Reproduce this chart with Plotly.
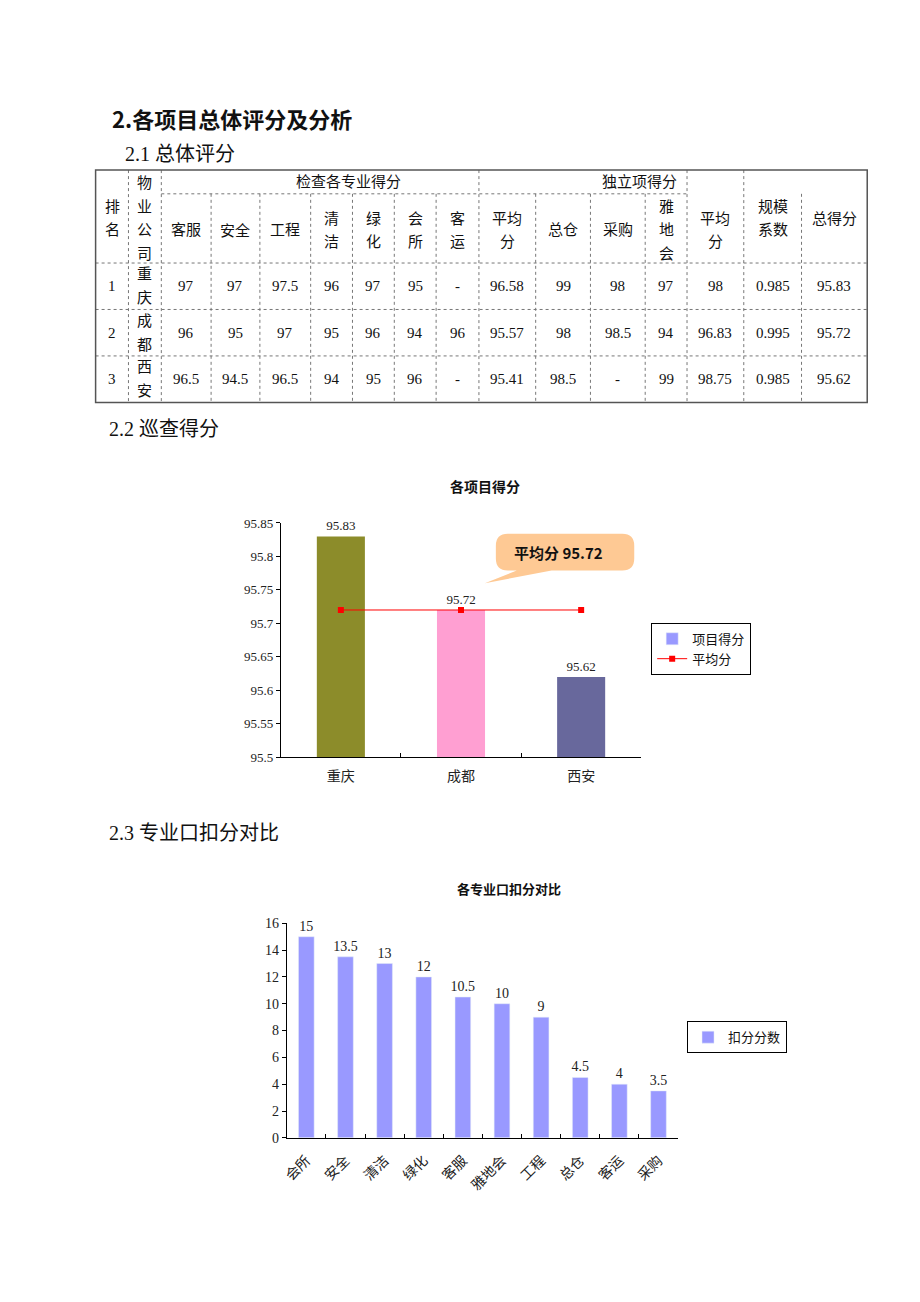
import plotly.graph_objects as go

W, H = 920, 1302
SERIF = "Liberation Serif, Noto Sans CJK SC"
SANS = "Noto Sans CJK SC"


def px(x):
    return x / W


def py(y):
    return 1 - y / H


# ---- table data ----
table_ranks = ["1", "2", "3"]
companies = ["重庆", "成都", "西安"]
inspect_headers = ["客服", "安全", "工程", "清洁", "绿化", "会所", "客运", "平均分"]
inspect_rows = [
    ["97", "97", "97.5", "96", "97", "95", "-", "96.58"],
    ["96", "95", "97", "95", "96", "94", "96", "95.57"],
    ["96.5", "94.5", "96.5", "94", "95", "96", "-", "95.41"],
]
indep_headers = ["总仓", "采购", "雅地会", "平均分"]
indep_rows = [
    ["99", "98", "97", "98"],
    ["98", "98.5", "94", "96.83"],
    ["98.5", "-", "99", "98.75"],
]
scale_factor = ["0.985", "0.995", "0.985"]
total_scores = [95.83, 95.72, 95.62]

# ---- chart 1 data ----
bar_colors = ["#8c8c2a", "#ff9fd2", "#68689c"]
avg_score = 95.72
avg_line = [95.72, 95.72, 95.72]

# ---- chart 2 data ----
deduct_cats = ["会所", "安全", "清洁", "绿化", "客服", "雅地会", "工程", "总仓", "客运", "采购"]
deduct_vals = [15, 13.5, 13, 12, 10.5, 10, 9, 4.5, 4, 3.5]

fig = go.Figure()

# chart 1
fig.add_trace(go.Bar(
    x=companies, y=total_scores, marker_color=bar_colors, marker_line_width=0,
    texttemplate="%{y:.2f}", textposition="outside", cliponaxis=False, constraintext="none",
    textfont=dict(family=SERIF, size=13, color="#222"),
    showlegend=False, xaxis="x", yaxis="y",
))
fig.add_trace(go.Bar(
    x=[None], y=[None], name="项目得分", marker_color="#9999ff",
    xaxis="x", yaxis="y", legend="legend",
))
fig.add_trace(go.Scatter(
    x=companies, y=avg_line, name="平均分", mode="lines+markers",
    line=dict(color="#ff0000", width=1), marker=dict(symbol="square", size=6, color="#ff0000"),
    xaxis="x", yaxis="y", legend="legend",
))

# chart 2
fig.add_trace(go.Bar(
    x=deduct_cats, y=deduct_vals, name="扣分分数", marker_color="#9999ff",
    texttemplate="%{y}", textposition="outside", cliponaxis=False, constraintext="none",
    textfont=dict(family=SERIF, size=14, color="#222"),
    xaxis="x2", yaxis="y2", legend="legend2",
))

shapes = []
ann = []


def text(x, y, s, size=15, family=SERIF, bold=False, anchor="center", color="#111"):
    if bold:
        s = "<b>" + s + "</b>"
    ann.append(dict(x=px(x), y=py(y), xref="paper", yref="paper", text=s, showarrow=False,
                    xanchor=anchor, yanchor="middle", font=dict(family=family, size=size, color=color)))


def cell_text(x0, x1, yc, s, size=15):
    w = x1 - x0
    per = max(1, (w - 14) // 15)
    if any(ch.isdigit() for ch in s) or s == "-":
        lines = [s]
    else:
        lines = [s[i:i + per] for i in range(0, len(s), per)]
    n = len(lines)
    for k, ln in enumerate(lines):
        text((x0 + x1) / 2, yc + (k - (n - 1) / 2) * 24, ln, size)


# headings
text(106, 112, "2.各项目总体评分及分析", 22, SANS, bold=True, anchor="left")
text(120, 149, "2.1 总体评分", 20, SERIF, anchor="left")
text(103, 427, "2.2 巡查得分", 20, SERIF, anchor="left")
text(103, 836, "2.3 专业口扣分对比", 20, SERIF, anchor="left")

# table grid
cols = [92, 125, 158, 208, 257, 308, 350, 392, 434, 477, 534, 589, 644, 686, 743, 801, 867]
rows = [165, 189, 259, 306, 353, 400]
dot = dict(color="#777", width=1, dash="dot")
for i in range(1, len(cols) - 1):
    y0 = rows[0] if i in (1, 2, 9, 13, 14) else rows[1]
    shapes.append(dict(type="line", xref="paper", yref="paper", x0=px(cols[i]), x1=px(cols[i]),
                       y0=py(y0), y1=py(rows[-1]), line=dot))
shapes.append(dict(type="line", xref="paper", yref="paper", x0=px(cols[2]), x1=px(cols[13]),
                   y0=py(rows[1]), y1=py(rows[1]), line=dot))
for r in rows[2:-1]:
    shapes.append(dict(type="line", xref="paper", yref="paper", x0=px(cols[0]), x1=px(cols[-1]),
                       y0=py(r), y1=py(r), line=dot))
shapes.append(dict(type="rect", xref="paper", yref="paper", x0=px(cols[0]), x1=px(cols[-1]),
                   y0=py(rows[0]), y1=py(rows[-1]), line=dict(color="#555", width=1.5)))

# table headers
text((cols[2] + cols[10]) / 2, 177, "检查各专业得分")
text((cols[10] + cols[14]) / 2, 177, "独立项得分")
cell_text(cols[0], cols[1], 214, "排名")
cell_text(cols[1], cols[2], 214, "物业公司")
sub_headers = inspect_headers + indep_headers
for j, h in enumerate(sub_headers):
    cell_text(cols[2 + j], cols[3 + j], 226, h)
cell_text(cols[14], cols[15], 214, "规模系数")
cell_text(cols[15], cols[16], 214, "总得分")

# table body
for r in range(3):
    yc = (rows[2 + r] + rows[3 + r]) / 2
    vals = [table_ranks[r], companies[r]] + inspect_rows[r] + indep_rows[r] + [scale_factor[r], f"{total_scores[r]:.2f}"]
    for j, v in enumerate(vals):
        cell_text(cols[j], cols[j + 1], yc, v)

# chart titles
text(483, 485, "各项目得分", 14, SANS, bold=True)
text(507, 892, "各专业口扣分对比", 13, SANS, bold=True)


# callout bubble
def P(x, y):
    return f"{px(x):.5f},{py(y):.5f}"


bubble = ("M" + P(506, 533) + " L" + P(621, 533) + " Q" + P(633, 533) + " " + P(633, 545) +
          " L" + P(633, 558) + " Q" + P(633, 570) + " " + P(621, 570) +
          " L" + P(550, 570) + " L" + P(483, 583) + " L" + P(515, 570) +
          " L" + P(506, 570) + " Q" + P(494, 570) + " " + P(494, 558) +
          " L" + P(494, 545) + " Q" + P(494, 533) + " " + P(506, 533) + " Z")
shapes.append(dict(type="path", xref="paper", yref="paper", path=bubble,
                   fillcolor="#fec994", line=dict(width=0), layer="above"))
text(510, 552, f"平均分 {avg_score}", 15, SANS, bold=True, anchor="left")

axis_common = dict(showline=True, linecolor="#000", linewidth=1, showgrid=False, zeroline=False,
                   tickcolor="#000", ticklen=4)
tick_small = dict(family=SERIF, size=13, color="#222")
tick_big = dict(family=SERIF, size=14, color="#222")

fig.update_layout(
    width=W, height=H, autosize=False,
    margin=dict(l=0, r=0, t=0, b=0),
    paper_bgcolor="white", plot_bgcolor="white",
    barmode="overlay", bargap=0.6,
    xaxis=dict(domain=[px(278), px(640)], anchor="y", ticks="inside", tickson="boundaries",
               tickfont=tick_big, ticklabelstandoff=6, **axis_common),
    yaxis=dict(domain=[py(759), py(522)], anchor="x", range=[95.5, 95.85], dtick=0.05, tick0=95.5,
               ticks="outside", tickfont=tick_small, **axis_common),
    xaxis2=dict(domain=[px(284), px(677)], anchor="y2", ticks="inside", tickson="boundaries",
                tickangle=-45, tickfont=tick_big, ticklabelstandoff=8, **axis_common),
    yaxis2=dict(domain=[py(1144), py(927)], anchor="x2", range=[0, 16], dtick=2,
                ticks="outside", tickfont=tick_big, **axis_common),
    legend=dict(x=px(650), y=py(623), xanchor="left", yanchor="top", bgcolor="white",
                bordercolor="#000", borderwidth=1, font=dict(family=SANS, size=13, color="#111"),
                tracegroupgap=0, itemwidth=30),
    legend2=dict(x=px(686), y=py(1026), xanchor="left", yanchor="top", bgcolor="white",
                 bordercolor="#000", borderwidth=1, font=dict(family=SANS, size=13, color="#111"),
                 itemwidth=30),
    shapes=shapes,
    annotations=ann,
)

# drop the default page margin so figure pixels line up with the window
fig.write_html("out.html", config={"displayModeBar": False},
               post_script="document.body.style.margin='0';")
